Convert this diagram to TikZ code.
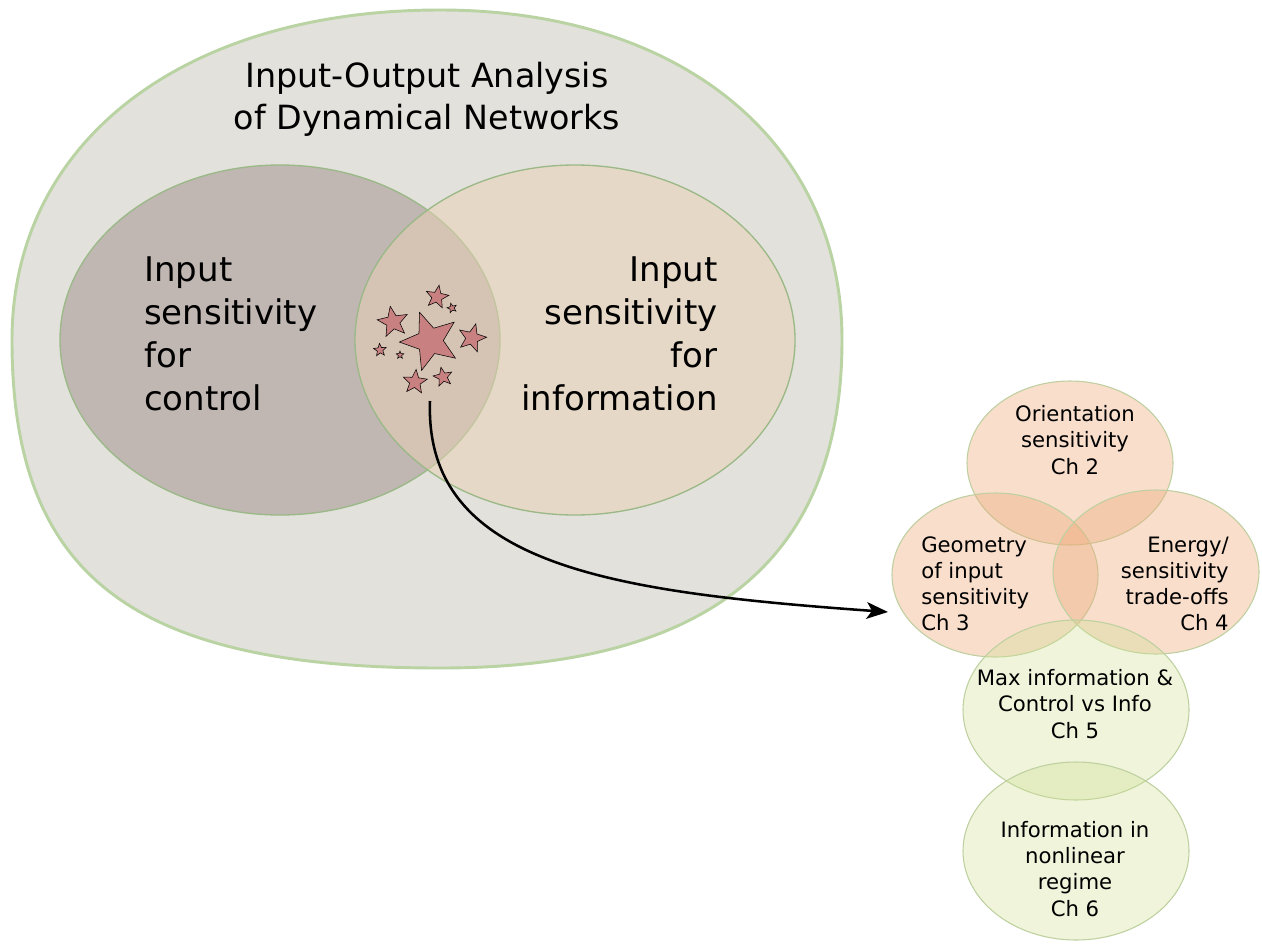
\documentclass[tikz,border=0pt]{standalone}
\usepackage{fontspec}
\setmainfont{DejaVu Sans}
\usetikzlibrary{shapes.geometric,arrows.meta}
\definecolor{blobfill}{RGB}{226,225,219}
\definecolor{blobline}{RGB}{185,211,163}
\definecolor{ctrlfill}{RGB}{143,122,120}
\definecolor{infofill}{RGB}{234,209,181}
\definecolor{vennline}{RGB}{155,185,135}
\definecolor{chpeach}{RGB}{238,172,125}
\definecolor{chgreen}{RGB}{208,224,148}
\definecolor{chline}{RGB}{190,208,160}
\definecolor{starfill}{RGB}{200,128,128}

\tikzset{
  twinkle/.style={star, star points=5, star point ratio=2.3, draw=black, line width=0.4pt, fill=starfill, inner sep=0pt},
  bigtext/.style={font=\fontsize{25.5}{32.2}\selectfont, inner sep=0.75pt},
  titletext/.style={font=\fontsize{25}{31.5}\selectfont, inner sep=0.75pt},
  chtext/.style={font=\fontsize{15.9}{19.6}\selectfont, inner sep=0.75pt},
  chpeachbox/.style={fill=chpeach, fill opacity=0.4, draw=chline, line width=0.8pt},
  chgreenbox/.style={fill=chgreen, fill opacity=0.35, draw=chline, line width=0.8pt},
}

\begin{document}
\begin{tikzpicture}[x=0.75pt,y=0.75pt,yscale=-1,xscale=1]
\path[use as bounding box] (0,0) rectangle (1262,943);

%Outer blob
\draw [blobline, fill=blobfill, line width=2.2pt] (440,10) .. controls (681,10) and (842,142) .. (842,340) .. controls (842,560) and (709,668) .. (440,668) .. controls (132,668) and (12,576) .. (12,340) .. controls (12,142) and (183,10) .. (440,10) -- cycle ;

%Venn ellipses
\draw [vennline, fill=ctrlfill, fill opacity=0.4, line width=1pt] (280,340) ellipse [x radius=220, y radius=175] ;
\draw [vennline, fill=infofill, fill opacity=0.5, line width=1pt] (575,340) ellipse [x radius=220, y radius=175] ;

%Stars
\node [twinkle, minimum size=46pt, rotate=20] (s0) at (430,341) {};
\node [twinkle, minimum size=18pt, rotate=-10] (s1) at (437,297) {};
\node [twinkle, minimum size=7.5pt, rotate=15] (s2) at (452,308) {};
\node [twinkle, minimum size=24pt, rotate=10] (s3) at (393,322) {};
\node [twinkle, minimum size=22pt, rotate=-15] (s4) at (472,338) {};
\node [twinkle, minimum size=10pt, rotate=5] (s5) at (380,350) {};
\node [twinkle, minimum size=6pt, rotate=0] (s6) at (400,355) {};
\node [twinkle, minimum size=19pt, rotate=-5] (s7) at (415,382) {};
\node [twinkle, minimum size=15pt, rotate=12] (s8) at (443,377) {};

%Chapter ellipses
\draw [chpeachbox] (1070,463) ellipse [x radius=103, y radius=82] ;
\draw [chpeachbox] (995,575) ellipse [x radius=103, y radius=82] ;
\draw [chpeachbox] (1156,572) ellipse [x radius=103, y radius=82] ;
\draw [chgreenbox] (1076,710) ellipse [x radius=113, y radius=90] ;
\draw [chgreenbox] (1076,851) ellipse [x radius=113, y radius=89] ;

%Arrow
\coordinate (from) at (430,401);
\coordinate (to) at (888,612);
\draw [line width=1.9pt, -{Stealth[length=16pt, width=12.5pt, inset=4pt]}] (from) .. controls (424,565) and (610,592) .. (to) ;

% Text Node
\node [titletext, align=center] (title) at (427,99) {Input-Output Analysis\\of Dynamical Networks};
% Text Node
\node [bigtext, align=left, anchor=west] (ctrl) at (143,334) {Input\\sensitivity\\for\\control};
% Text Node
\node [bigtext, align=right, anchor=east] (info) at (719,334) {Input\\sensitivity\\for\\information};
% Text Node
\node [chtext, align=center] (ch2) at (1075,440) {Orientation\\sensitivity\\Ch 2};
% Text Node
\node [chtext, align=left, anchor=west] (ch3) at (920,584) {Geometry\\of input\\sensitivity\\Ch 3};
% Text Node
\node [chtext, align=right, anchor=east] (ch4) at (1230,584) {Energy/\\sensitivity\\trade-offs\\Ch 4};
% Text Node
\node [chtext, align=center] (ch5) at (1075,704) {Max information \&\\Control vs Info\\Ch 5};
% Text Node
\node [chtext, align=center] (ch6) at (1075,869) {Information in\\nonlinear\\regime\\Ch 6};

\end{tikzpicture}
\end{document}
